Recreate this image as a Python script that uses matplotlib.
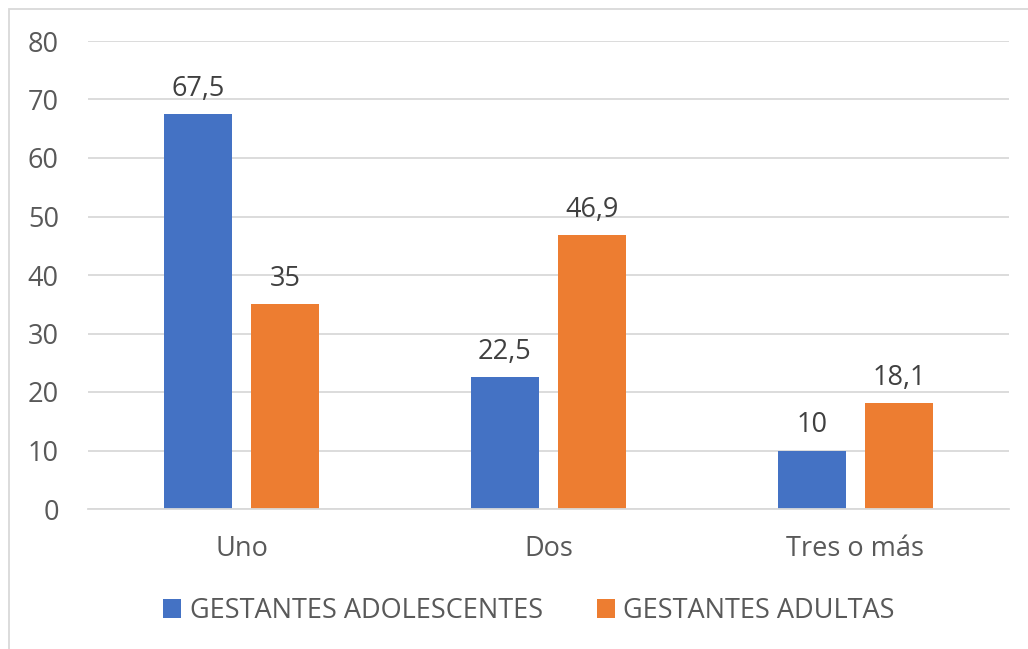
import matplotlib
matplotlib.use("Agg")
import matplotlib.pyplot as plt
from matplotlib.patches import Rectangle, Patch
import numpy as np

categories = ["Uno", "Dos", "Tres o más"]
series_names = ["GESTANTES ADOLESCENTES", "GESTANTES ADULTAS"]
adolescentes = [67.5, 22.5, 10]
adultas = [35, 46.9, 18.1]
yticks = [0, 10, 20, 30, 40, 50, 60, 70, 80]

colors = ["#4472C4", "#ED7D31"]
text_color = "#595959"
label_color = "#404040"
plt.rcParams['font.family'] = ['Open Sans', 'DejaVu Sans']

W, H = 1028, 649
FS = 19.5
fig = plt.figure(figsize=(W / 100, H / 100), dpi=100)
ax = fig.add_axes([88 / W, 140 / H, (1009 - 88) / W, (509 - 41) / H])

x = np.arange(len(categories))
bw = 0.2215
off = 0.1417
for vals, c, sign in [(adolescentes, colors[0], -1), (adultas, colors[1], 1)]:
    bars = ax.bar(x + sign * off, vals, width=bw, color=c, zorder=3)
    for b, v in zip(bars, vals):
        lab = f"{v:g}".replace(".", ",")
        ax.annotate(lab, (b.get_x() + b.get_width() / 2, v), xytext=(0, 8),
                    textcoords="offset points", ha="center", va="bottom",
                    fontsize=FS, color=label_color)

ax.set_xlim(-0.5, 2.5)
ax.set_ylim(0, 80)
ax.set_yticks(yticks)
ax.set_xticks(x)
ax.set_xticklabels(categories)
ax.tick_params(axis="both", length=0, labelsize=FS, colors=text_color)
ax.tick_params(axis="y", pad=21)
ax.tick_params(axis="x", pad=19)
ax.grid(axis="y", color="#D9D9D9", linewidth=1.3, zorder=0)
for s in ["top", "right", "left"]:
    ax.spines[s].set_visible(False)
ax.spines["bottom"].set_color("#D9D9D9")
ax.spines["bottom"].set_linewidth(1.3)
ax.spines["bottom"].set_zorder(4)

handles = [Patch(facecolor=c, edgecolor="none") for c in colors]
fig.legend(handles, series_names, loc="center", bbox_to_anchor=(529 / W, 1 - 611 / H),
           ncol=2, frameon=False, fontsize=FS, labelcolor=text_color,
           handlelength=0.68, handleheight=0.68, handletextpad=0.3, columnspacing=2.0)

fig.patches.append(Rectangle((8.5 / W, -0.05), 1.1, 1 - 8.5 / H + 0.05, transform=fig.transFigure,
                             fill=False, edgecolor="#D9D9D9", linewidth=1.3))

fig.savefig("out.png", dpi=100)
